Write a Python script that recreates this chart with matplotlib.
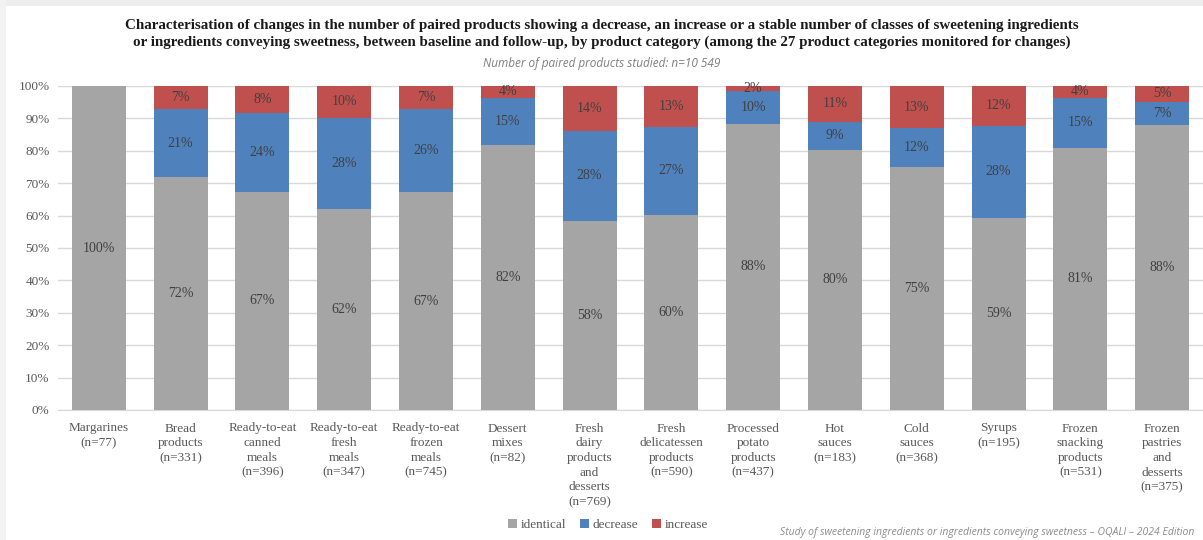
import matplotlib
matplotlib.use("Agg")
import matplotlib.pyplot as plt
from matplotlib.patches import Rectangle
import numpy as np

categories = ["Margarines\n(n=77)", "Bread\nproducts\n(n=331)", "Ready-to-eat\ncanned\nmeals\n(n=396)",
              "Ready-to-eat\nfresh\nmeals\n(n=347)", "Ready-to-eat\nfrozen\nmeals\n(n=745)",
              "Dessert\nmixes\n(n=82)", "Fresh\ndairy\nproducts\nand\ndesserts\n(n=769)",
              "Fresh\ndelicatessen\nproducts\n(n=590)", "Processed\npotato\nproducts\n(n=437)",
              "Hot\nsauces\n(n=183)", "Cold\nsauces\n(n=368)", "Syrups\n(n=195)",
              "Frozen\nsnacking\nproducts\n(n=531)", "Frozen\npastries\nand\ndesserts\n(n=375)"]
identical = [100, 72.0, 67.4, 62.0, 67.2, 81.7, 58.4, 60.2, 88.4, 80.3, 75.1, 59.4, 80.9, 88.0]
decrease = [0, 20.8, 24.4, 28.2, 25.6, 14.7, 27.8, 27.2, 10.0, 8.6, 11.8, 28.4, 15.4, 7.2]
increase = [0, 7.2, 8.2, 9.8, 7.2, 3.6, 13.8, 12.6, 1.6, 11.1, 13.1, 12.2, 3.7, 4.8]
series_names = ["identical", "decrease", "increase"]
colors = ["#A5A5A5", "#4F81BD", "#C0504D"]
yticks = [0, 10, 20, 30, 40, 50, 60, 70, 80, 90, 100]

title = ("Characterisation of changes in the number of paired products showing a decrease, an increase or a stable number of classes of sweetening ingredients\n"
         "or ingredients conveying sweetness, between baseline and follow-up, by product category (among the 27 product categories monitored for changes)")
subtitle = "Number of paired products studied: n=10 549"
footer = "Study of sweetening ingredients or ingredients conveying sweetness \u2013 OQALI \u2013 2024 Edition"

serif = "Liberation Serif"
txt_col = "#595959"

fig = plt.figure(figsize=(12.03, 5.4), dpi=100)
ax = fig.add_axes([58 / 1203, 1 - 410 / 540, 1 - 58 / 1203, 324 / 540])

x = np.arange(len(categories))
bottom = np.zeros(len(categories))
for name, vals, col in zip(series_names, [identical, decrease, increase], colors):
    vals = np.array(vals, dtype=float)
    ax.bar(x, vals, 0.66, bottom=bottom, color=col, label=name, zorder=3, edgecolor="none")
    for xi, b, v in zip(x, bottom, vals):
        if v > 0:
            ax.text(xi, b + v / 2, f"{v:.0f}%", ha="center", va="center", fontsize=10,
                    family=serif, color="#404040", zorder=4)
    bottom += vals

ax.set_xlim(-0.5, len(categories) - 0.5)
ax.set_ylim(0, 100)
ax.set_yticks(yticks)
ax.set_yticklabels([f"{t}%" for t in yticks], family=serif, fontsize=9.5, color=txt_col)
ax.set_xticks(x)
ax.set_xticklabels(categories, family=serif, fontsize=9.5, color=txt_col, linespacing=1.3, va="top")
ax.tick_params(axis="both", length=0)
ax.tick_params(axis="x", pad=9)
ax.tick_params(axis="y", pad=6)
ax.yaxis.grid(True, color="#D9D9D9", linewidth=1, zorder=0)
for s in ["top", "right", "left"]:
    ax.spines[s].set_visible(False)
ax.spines["bottom"].set_color("#D9D9D9")

fig.text(0.5, 1 - 34 / 540, title, ha="center", va="center", fontsize=10.8, fontweight="bold",
         family=serif, color="#1a1a1a", linespacing=1.35)
fig.text(0.5, 1 - 63 / 540, subtitle, ha="center", va="center", fontsize=8.5, style="italic",
         family="Open Sans", color="#7f7f7f")
fig.text(1194 / 1203, 1 - 533 / 540, footer, ha="right", va="center", fontsize=7.5, style="italic",
         family="Open Sans", color="#8c8c8c")

leg = fig.legend(loc="center", bbox_to_anchor=(608 / 1203, 1 - 525 / 540), ncol=3, frameon=False,
                 prop={"family": serif, "size": 9.5}, handlelength=0.7, handleheight=0.7,
                 handletextpad=0.3, columnspacing=1.0)
for t in leg.get_texts():
    t.set_color(txt_col)

# faint frame at top and left
fig.add_artist(Rectangle((0, 1 - 6 / 540), 1, 6 / 540, transform=fig.transFigure, color="#EDEDED", lw=0))
fig.add_artist(Rectangle((0, 0), 6 / 1203, 1, transform=fig.transFigure, color="#F2F2F2", lw=0))

fig.savefig("out.png", dpi=100)
